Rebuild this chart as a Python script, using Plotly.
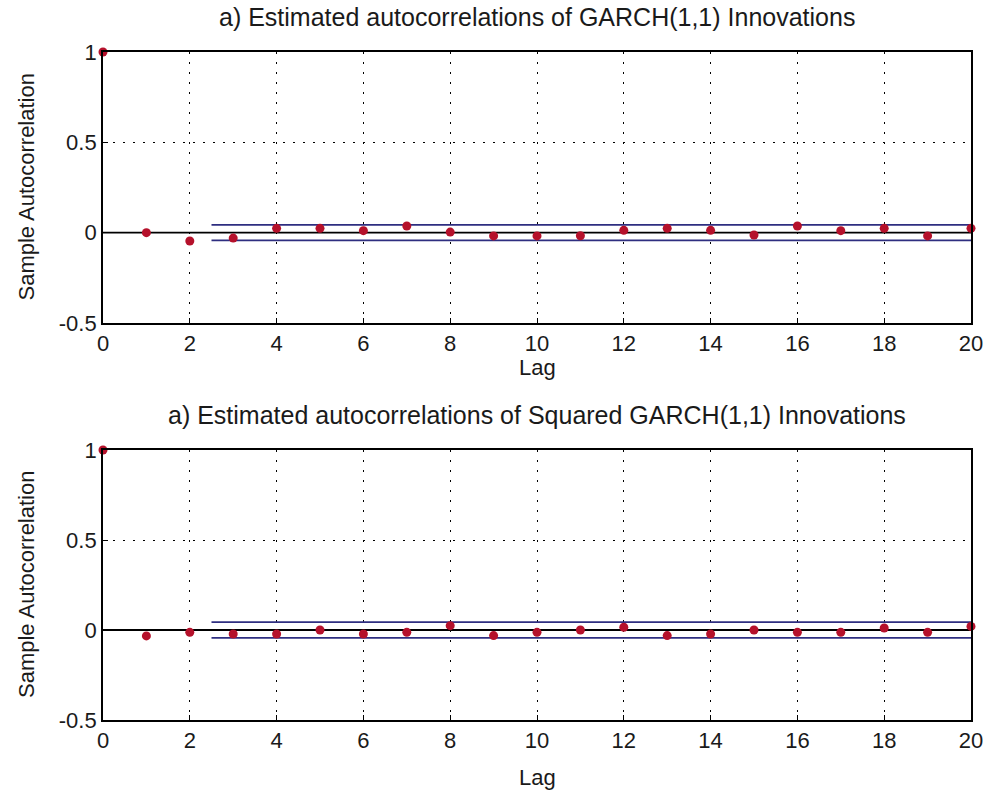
import plotly.graph_objects as go

lags = list(range(0, 21))
acf_innov = [1.0, 0.0, -0.046, -0.030, 0.024, 0.024, 0.011, 0.037, 0.003, -0.018,
             -0.018, -0.017, 0.013, 0.024, 0.013, -0.013, 0.037, 0.011, 0.024, -0.018, 0.024]
acf_sq = [1.0, -0.033, -0.013, -0.022, -0.022, 0.0, -0.022, -0.013, 0.024, -0.031,
          -0.013, 0.0, 0.015, -0.031, -0.022, 0.0, -0.013, -0.013, 0.011, -0.013, 0.020]
bound_x = [2.5, 20]
bound_innov = 0.043
bound_sq = 0.044
titles = ["a) Estimated autocorrelations of GARCH(1,1) Innovations",
          "a) Estimated autocorrelations of Squared GARCH(1,1) Innovations"]
x_label = "Lag"
y_label = "Sample Autocorrelation"

W, H = 989, 800
font = "Liberation Sans, Arial, sans-serif"
txt_color = "#1a1a1a"
marker_color = "#b5112b"
bound_color = "#2e2e80"

fig = go.Figure()

xdom = [103 / W, 971 / W]
ydoms = [[1 - 323 / H, 1 - 52 / H], [1 - 720 / H, 1 - 450 / H]]
title_y = [17, 415]
lag_y = [367, 777]
series = [(acf_innov, bound_innov), (acf_sq, bound_sq)]

for i, ((vals, b), ydom) in enumerate(zip(series, ydoms)):
    xa = "x" if i == 0 else "x2"
    ya = "y" if i == 0 else "y2"
    fig.add_trace(go.Scatter(x=[0, 20], y=[0, 0], mode="lines", xaxis=xa, yaxis=ya,
                             line=dict(color="black", width=1.8), showlegend=False, hoverinfo="skip"))
    for s in (1, -1):
        fig.add_trace(go.Scatter(x=bound_x, y=[s * b, s * b], mode="lines", xaxis=xa, yaxis=ya,
                                 line=dict(color=bound_color, width=1.8), showlegend=False, hoverinfo="skip"))
    fig.add_trace(go.Scatter(x=lags, y=vals, mode="markers", xaxis=xa, yaxis=ya,
                             marker=dict(color=marker_color, size=9), showlegend=False, cliponaxis=False))

    axx = dict(domain=xdom, range=[0, 20], tickmode="array", tickvals=list(range(0, 21, 2)),
               ticks="inside", ticklen=5, tickcolor="black", showline=True, linecolor="black",
               linewidth=1.8, mirror=True, showgrid=True, gridcolor="black", griddash="2px,8px",
               gridwidth=1, zeroline=False, anchor=ya, automargin=False,
               tickfont=dict(family=font, size=22, color=txt_color))
    axy = dict(domain=ydom, range=[-0.5, 1], tickmode="array", tickvals=[-0.5, 0, 0.5, 1],
               ticktext=["-0.5", "0", "0.5", "1"],
               ticks="inside", ticklen=5, tickcolor="black", showline=True, linecolor="black",
               linewidth=1.8, mirror=True, showgrid=True, gridcolor="black", griddash="2px,8px",
               gridwidth=1, zeroline=False, anchor=xa, automargin=False,
               tickfont=dict(family=font, size=22, color=txt_color))
    if i == 0:
        fig.update_layout(xaxis=axx, yaxis=axy)
    else:
        fig.update_layout(xaxis2=axx, yaxis2=axy)
    cx = (xdom[0] + xdom[1]) / 2
    fig.add_annotation(text=titles[i], x=cx, y=1 - title_y[i] / H, xref="paper", yref="paper",
                       yanchor="middle", xanchor="center", showarrow=False,
                       font=dict(family=font, size=25, color=txt_color))
    fig.add_annotation(text=x_label, x=cx, y=1 - lag_y[i] / H, xref="paper", yref="paper",
                       yanchor="middle", xanchor="center", showarrow=False,
                       font=dict(family=font, size=22, color=txt_color))
    fig.add_annotation(text=y_label, x=26 / W, y=(ydom[0] + ydom[1]) / 2, xref="paper", yref="paper",
                       yanchor="middle", xanchor="center", showarrow=False, textangle=-90,
                       font=dict(family=font, size=22, color=txt_color))

fig.update_layout(width=W, height=H, margin=dict(l=0, r=0, t=0, b=0),
                  paper_bgcolor="white", plot_bgcolor="white")

fig.write_html("out.html")
